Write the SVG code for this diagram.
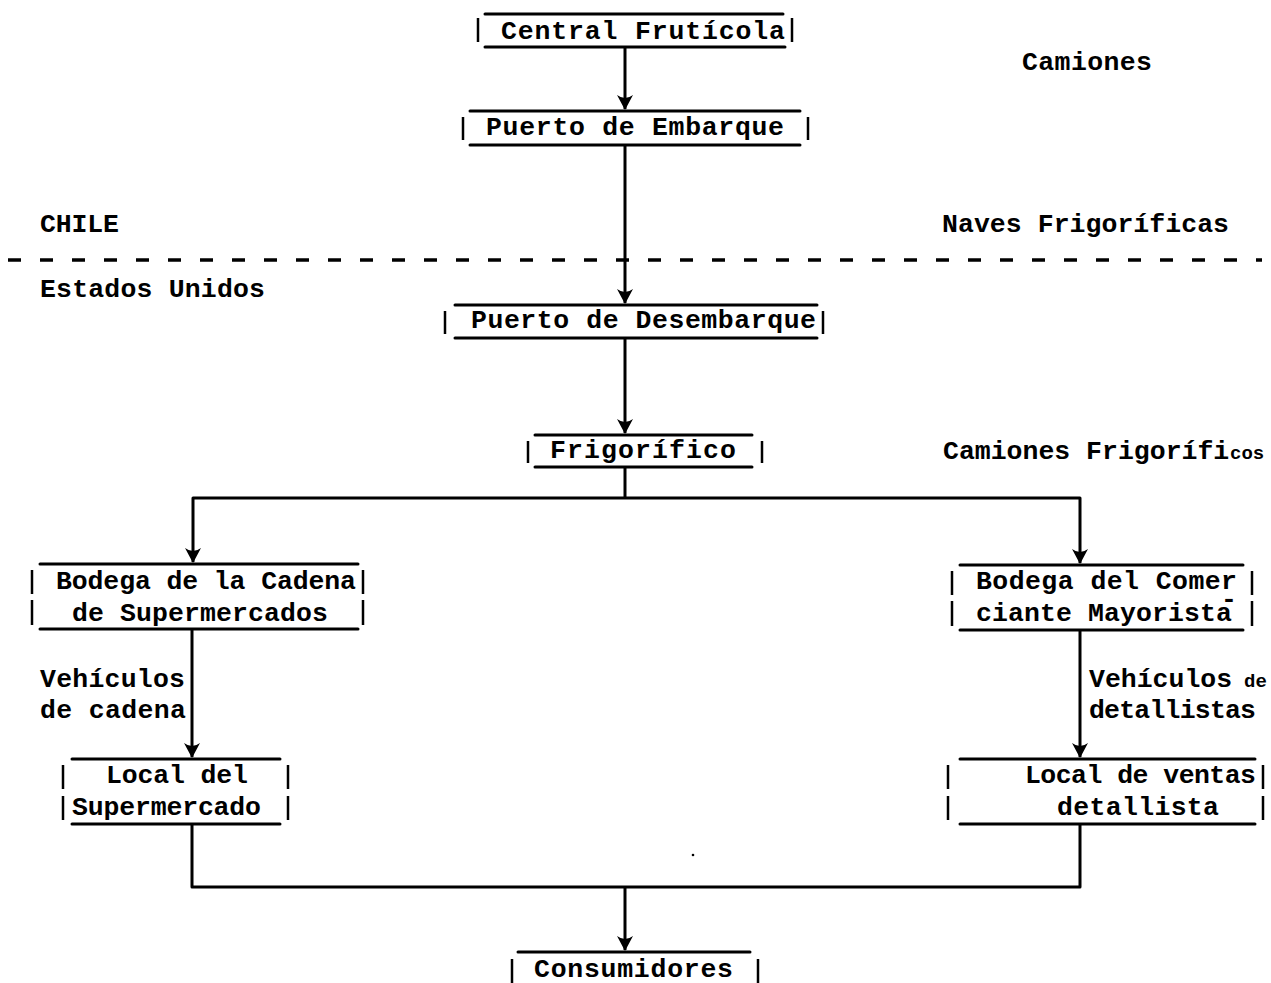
<svg xmlns="http://www.w3.org/2000/svg" width="1271" height="983" viewBox="0 0 1271 983">
  <style>
    .t { font-family: "Liberation Mono", "Courier New", monospace; font-weight: bold; font-size: 26.5px; fill: #000; }
    .rule { stroke: #000; stroke-width: 3; fill: none; stroke-linecap: round; }
    .bar { stroke: #000; stroke-width: 2.5; fill: none; }
    .link { stroke: #000; stroke-width: 3; fill: none; stroke-linejoin: round; }
    .border { stroke: #000; stroke-width: 3.5; stroke-dasharray: 13 19; fill: none; }
  </style>
  <defs>
    <marker id="head" viewBox="-16 -10 18 20" markerWidth="18" markerHeight="20" refX="0" refY="0" orient="auto" markerUnits="userSpaceOnUse">
      <path d="M1,0 L-14,-8 Q-8,0 -14,8 Z" fill="#000"/>
    </marker>
  </defs>
  <rect width="1271" height="983" fill="#fff"/>

  <!-- country border -->
  <line class="border" x1="8" y1="260" x2="1262" y2="260"/>

  <!-- connectors -->
  <g id="connectors">
    <line class="link" x1="625" y1="47" x2="625" y2="109" marker-end="url(#head)"/>
    <line class="link" x1="625" y1="145" x2="625" y2="303" marker-end="url(#head)"/>
    <line class="link" x1="625" y1="338" x2="625" y2="433" marker-end="url(#head)"/>
    <polyline class="link" points="625,467 625,498"/>
    <polyline class="link" points="625,498 193,498 193,562" marker-end="url(#head)"/>
    <polyline class="link" points="625,498 1080,498 1080,563" marker-end="url(#head)"/>
    <line class="link" x1="192" y1="629" x2="192" y2="757" marker-end="url(#head)"/>
    <line class="link" x1="1080" y1="630" x2="1080" y2="757" marker-end="url(#head)"/>
    <polyline class="link" points="192,824 192,887 1080,887 1080,824"/>
    <line class="link" x1="625" y1="887" x2="625" y2="950" marker-end="url(#head)"/>
  </g>

  <!-- stations -->
  <g id="central-fruticola">
    <line class="rule" x1="485" y1="14" x2="783" y2="14"/>
    <line class="rule" x1="485" y1="47" x2="785" y2="47"/>
    <line class="bar" x1="478" y1="18" x2="478" y2="42"/>
    <line class="bar" x1="792" y1="18" x2="792" y2="42"/>
    <text class="t" x="501" y="39" textLength="284" lengthAdjust="spacing">Central Frutícola</text>
  </g>

  <g id="puerto-embarque">
    <line class="rule" x1="470" y1="111" x2="800" y2="111"/>
    <line class="rule" x1="470" y1="145" x2="800" y2="145"/>
    <line class="bar" x1="463" y1="117" x2="463" y2="140"/>
    <line class="bar" x1="808" y1="117" x2="808" y2="140"/>
    <text class="t" x="486" y="135" textLength="298" lengthAdjust="spacing">Puerto de Embarque</text>
  </g>

  <g id="puerto-desembarque">
    <line class="rule" x1="455" y1="305" x2="817" y2="305"/>
    <line class="rule" x1="455" y1="338" x2="817" y2="338"/>
    <line class="bar" x1="445" y1="311" x2="445" y2="334"/>
    <line class="bar" x1="823" y1="311" x2="823" y2="334"/>
    <text class="t" x="471" y="328" textLength="345" lengthAdjust="spacing">Puerto de Desembarque</text>
  </g>

  <g id="frigorifico">
    <line class="rule" x1="535" y1="435" x2="752" y2="435"/>
    <line class="rule" x1="535" y1="467" x2="752" y2="467"/>
    <line class="bar" x1="528" y1="441" x2="528" y2="463"/>
    <line class="bar" x1="762" y1="441" x2="762" y2="463"/>
    <text class="t" x="550" y="458" textLength="186" lengthAdjust="spacing">Frigorífico</text>
  </g>

  <g id="bodega-cadena">
    <line class="rule" x1="40" y1="564" x2="358" y2="564"/>
    <line class="rule" x1="40" y1="629" x2="358" y2="629"/>
    <line class="bar" x1="32" y1="570" x2="32" y2="594"/>
    <line class="bar" x1="32" y1="600" x2="32" y2="625"/>
    <line class="bar" x1="363" y1="570" x2="363" y2="594"/>
    <line class="bar" x1="363" y1="600" x2="363" y2="625"/>
    <text class="t" x="56" y="589" textLength="300" lengthAdjust="spacing">Bodega de la Cadena</text>
    <text class="t" x="72" y="621" textLength="256" lengthAdjust="spacing">de Supermercados</text>
  </g>

  <g id="local-supermercado">
    <line class="rule" x1="72" y1="759" x2="280" y2="759"/>
    <line class="rule" x1="72" y1="824" x2="280" y2="824"/>
    <line class="bar" x1="63" y1="765" x2="63" y2="789"/>
    <line class="bar" x1="63" y1="796" x2="63" y2="820"/>
    <line class="bar" x1="288" y1="765" x2="288" y2="789"/>
    <line class="bar" x1="288" y1="796" x2="288" y2="820"/>
    <text class="t" x="106" y="783" textLength="142" lengthAdjust="spacing">Local del</text>
    <text class="t" x="72" y="815" textLength="189" lengthAdjust="spacing">Supermercado</text>
  </g>

  <g id="bodega-mayorista">
    <line class="rule" x1="960" y1="565" x2="1243" y2="565"/>
    <line class="rule" x1="960" y1="630" x2="1243" y2="630"/>
    <line class="bar" x1="952" y1="571" x2="952" y2="595"/>
    <line class="bar" x1="952" y1="601" x2="952" y2="626"/>
    <line class="bar" x1="1252" y1="571" x2="1252" y2="595"/>
    <line class="bar" x1="1252" y1="601" x2="1252" y2="626"/>
    <text class="t" x="976" y="589" textLength="261" lengthAdjust="spacing">Bodega del Comer</text>
    <text class="t" x="1221" y="607">-</text>
    <text class="t" x="976" y="621" textLength="256" lengthAdjust="spacing">ciante Mayorista</text>
  </g>

  <g id="local-ventas">
    <line class="rule" x1="960" y1="759" x2="1255" y2="759"/>
    <line class="rule" x1="960" y1="824" x2="1255" y2="824"/>
    <line class="bar" x1="948" y1="765" x2="948" y2="789"/>
    <line class="bar" x1="948" y1="796" x2="948" y2="820"/>
    <line class="bar" x1="1263" y1="765" x2="1263" y2="789"/>
    <line class="bar" x1="1263" y1="796" x2="1263" y2="820"/>
    <text class="t" x="1025" y="783" textLength="231" lengthAdjust="spacing">Local de ventas</text>
    <text class="t" x="1057" y="815" textLength="162" lengthAdjust="spacing">detallista</text>
  </g>

  <g id="consumidores">
    <line class="rule" x1="518" y1="952" x2="750" y2="952"/>
    <line class="bar" x1="512" y1="959" x2="512" y2="983"/>
    <line class="bar" x1="758" y1="959" x2="758" y2="983"/>
    <text class="t" x="534" y="977" textLength="199" lengthAdjust="spacing">Consumidores</text>
  </g>

  <!-- transport and country labels -->
  <g id="labels">
    <text class="t" x="1022" y="70" textLength="130" lengthAdjust="spacing">Camiones</text>
    <text class="t" x="40" y="232" textLength="79" lengthAdjust="spacing">CHILE</text>
    <text class="t" x="942" y="232" textLength="287" lengthAdjust="spacing">Naves Frigoríficas</text>
    <text class="t" x="40" y="297" textLength="225" lengthAdjust="spacing">Estados Unidos</text>
    <text class="t" x="943" y="459">Camiones Frigorífi<tspan x="1230" font-size="19">cos</tspan></text>
    <text class="t" x="40" y="687" textLength="145" lengthAdjust="spacing">Vehículos</text>
    <text class="t" x="40" y="718" textLength="146" lengthAdjust="spacing">de cadena</text>
    <text class="t" x="1089" y="687">Vehículos<tspan x="1244" font-size="19">de</tspan></text>
    <text class="t" x="1089" y="718" textLength="167" lengthAdjust="spacing">detallistas</text>
  </g>

  <circle cx="693" cy="855" r="1.3" fill="#000"/>
</svg>
